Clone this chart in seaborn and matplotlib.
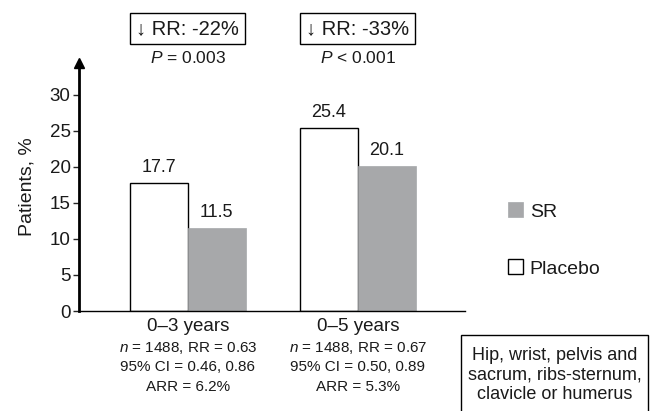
import pandas as pd
import matplotlib
matplotlib.use('Agg')
import matplotlib.pyplot as plt
import matplotlib.patches as mpatches
import seaborn as sns

periods = ['0–3 years', '0–5 years']
placebo = [17.7, 25.4]
sr = [11.5, 20.1]
rr_boxes = ['↓ RR: -22%', '↓ RR: -33%']
p_values = ['$P$ = 0.003', '$P$ < 0.001']
stats_lines = [
    ['$n$ = 1488, RR = 0.63', '95% CI = 0.46, 0.86', 'ARR = 6.2%'],
    ['$n$ = 1488, RR = 0.67', '95% CI = 0.50, 0.89', 'ARR = 5.3%'],
]
site_text = 'Hip, wrist, pelvis and\nsacrum, ribs-sternum,\nclavicle or humerus'

data = pd.DataFrame({
    'period': periods * 2,
    'pct': placebo + sr,
    'group': ['Placebo'] * 2 + ['SR'] * 2,
})

sns.set_style('white')
plt.rcParams['font.family'] = ['Liberation Sans', 'DejaVu Sans']
plt.rcParams['mathtext.fontset'] = 'custom'
plt.rcParams['mathtext.rm'] = 'Liberation Sans'
plt.rcParams['mathtext.it'] = 'Liberation Sans:italic'

gray = '#a6a8ab'
txt = '#1a1a1a'
fig = plt.figure(figsize=(6.5, 4.11), dpi=100)
ax = fig.add_axes([79 / 650, 1 - 311 / 411, (465 - 79) / 650, (311 - 63) / 411])

sns.barplot(data=data, x='period', y='pct', hue='group', hue_order=['Placebo', 'SR'],
            palette=['white', gray], width=0.68, ax=ax, legend=True)

for bar in ax.patches:
    if bar.get_facecolor()[0] > 0.9:
        bar.set_edgecolor('black')
        bar.set_linewidth(1.0)
    else:
        bar.set_edgecolor(gray)
        bar.set_linewidth(0.5)

for cont in ax.containers:
    ax.bar_label(cont, fmt='%.1f', padding=5, fontsize=13, color=txt)

ax.set_ylim(0, 34.4)
ax.set_xlim(-0.64, 1.63)
ax.set_yticks([0, 5, 10, 15, 20, 25, 30])
ax.tick_params(axis='y', labelsize=13.5, length=4, width=1, direction='out', left=True, pad=2,
               labelcolor=txt)
ax.tick_params(axis='x', labelsize=13.5, length=0, pad=5, labelcolor=txt)
ax.set_xlabel('')
ax.set_ylabel('Patients, %', fontsize=14, labelpad=10, color=txt)
for side in ['top', 'right']:
    ax.spines[side].set_visible(False)
ax.spines['left'].set_linewidth(2)
ax.spines['bottom'].set_linewidth(1)
ax.spines['left'].set_color('black')
ax.spines['bottom'].set_color('black')
ax.plot(0, 1, marker='^', color='black', markersize=7, transform=ax.transAxes, clip_on=False)

for i in range(2):
    ax.text(i, 39.2, rr_boxes[i], ha='center', va='center', fontsize=14.5, color=txt,
            bbox=dict(boxstyle='square,pad=0.3', facecolor='white', edgecolor='black', linewidth=1),
            clip_on=False)
    ax.text(i, 35.1, p_values[i], ha='center', va='center', fontsize=12.5, color=txt, clip_on=False)
    for j, line in enumerate(stats_lines[i]):
        ax.text(i, -5.1 - j * 2.7, line, ha='center', va='center', fontsize=11, color=txt,
                clip_on=False)

handles, labels = ax.get_legend_handles_labels()
leg = ax.legend(handles[::-1], labels[::-1], loc='center left', frameon=False,
                bbox_to_anchor=(490 / 650, 1 - 240 / 411), bbox_transform=fig.transFigure,
                fontsize=14, handlelength=0.8, handleheight=0.8, handletextpad=0.35,
                labelspacing=2.0)
for t in leg.get_texts():
    t.set_color(txt)

box = mpatches.Rectangle((461 / 650, -0.05), (648 - 461) / 650, 0.05 + 1 - 335 / 411,
                         transform=fig.transFigure, facecolor='white', edgecolor='black',
                         linewidth=1, clip_on=False)
fig.patches.append(box)
fig.text(555 / 650, 1 - 375 / 411, site_text, ha='center', va='center', fontsize=13,
         linespacing=1.2, color=txt)

fig.savefig('out.png', dpi=100)
